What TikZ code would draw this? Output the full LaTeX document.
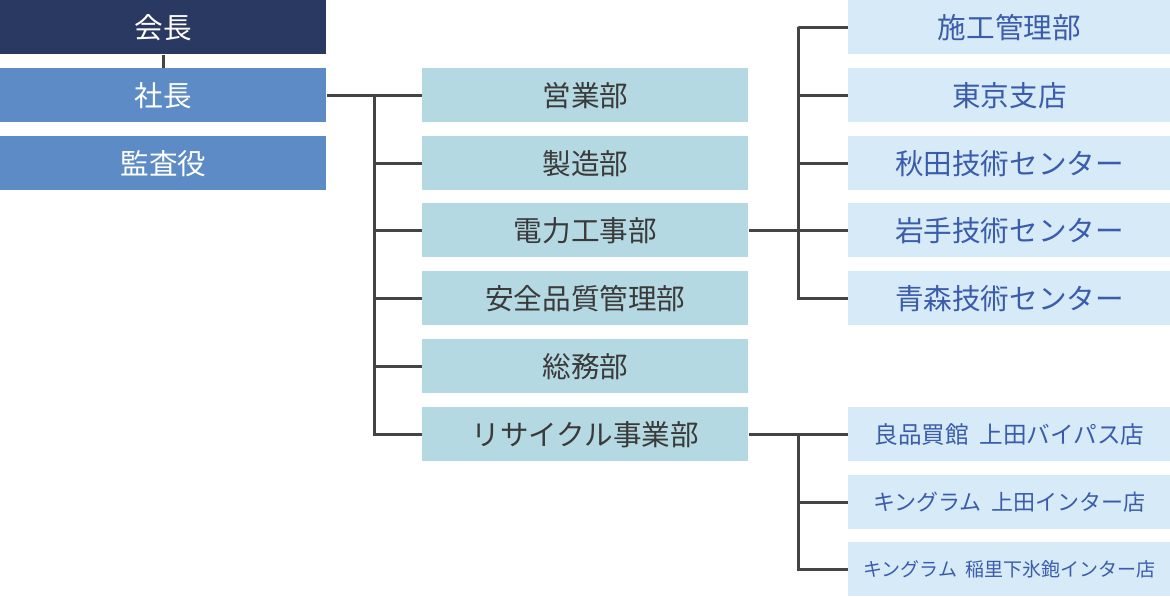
\documentclass[tikz,border=0pt]{standalone}
\usepackage{fontspec}
\setmainfont{Noto Sans CJK JP}
\definecolor{navy}{HTML}{2A3961}
\definecolor{topblue}{HTML}{5C8BC5}
\definecolor{deptteal}{HTML}{B4D9E2}
\definecolor{branchblue}{HTML}{D6EAF7}
\definecolor{branchtext}{HTML}{3B5CAB}
\definecolor{depttext}{HTML}{3A3A3A}
\definecolor{linegray}{HTML}{444444}
\newcommand{\gap}{\hspace{0.45em}}
\begin{document}
\begin{tikzpicture}[x=0.5pt,y=-0.5pt,
		box/.style={anchor=north west,inner sep=0pt,minimum height=27pt,font=\fontsize{14.3pt}{16pt}\selectfont},
		topbox/.style={box,minimum width=163pt,text=white},
		deptbox/.style={box,minimum width=163pt,fill=deptteal,text=depttext},
		branchbox/.style={box,minimum width=161pt,fill=branchblue,text=branchtext},
		link/.style={draw=linegray,line width=1.5pt}]
			\useasboundingbox (0,0) rectangle (1170,597);
			% top management
			\node [topbox,fill=navy] (kaicho) at (0,0) {会長};
			\node [topbox,fill=topblue] (shacho) at (0,68) {社長};
			\node [topbox,fill=topblue] (kansa) at (0,136) {監査役};
			% departments
			\node [deptbox] (eigyo) at (422,68) {営業部};
			\node [deptbox] (seizo) at (422,136) {製造部};
			\node [deptbox] (denryoku) at (422,203) {電力工事部};
			\node [deptbox] (anzen) at (422,271) {安全品質管理部};
			\node [deptbox] (somu) at (422,339) {総務部};
			\node [deptbox] (recycle) at (422,407) {リサイクル事業部};
			% branches of electric works
			\node [branchbox] (seko) at (848,0) {施工管理部};
			\node [branchbox] (tokyo) at (848,68) {東京支店};
			\node [branchbox] (akita) at (848,136) {秋田技術センター};
			\node [branchbox] (iwate) at (848,203) {岩手技術センター};
			\node [branchbox] (aomori) at (848,271) {青森技術センター};
			% shops of recycling
			\node [branchbox,font=\fontsize{11.8pt}{14pt}\selectfont] (ryohin) at (848,407) {良品買館\gap 上田バイパス店};
			\node [branchbox,font=\fontsize{11pt}{13pt}\selectfont] (uedaic) at (848,475) {キングラム\gap 上田インター店};
			\node [branchbox,font=\fontsize{9.5pt}{12pt}\selectfont] (inasato) at (848,542) {キングラム\gap 稲里下氷鉋インター店};
			% connectors
			\draw [link] (kaicho.south) -- (shacho.north);
			\coordinate (trunk) at (374,95);
			\draw [link] (shacho.east) -- (eigyo.west);
			\draw [link] (trunk) |- (recycle.west);
			\foreach \d in {seizo,denryoku,anzen,somu}
				\draw [link] (trunk |- \d.west) -- (\d.west);
			\coordinate (rtrunk) at (798,27);
			\draw [link] (denryoku.east) -- (rtrunk |- denryoku.east);
			\draw [link] (seko.west) -| (rtrunk) |- (aomori.west);
			\foreach \b in {tokyo,akita,iwate}
				\draw [link] (rtrunk |- \b.west) -- (\b.west);
			\draw [link] (recycle.east) -- (ryohin.west);
			\draw [link] (rtrunk |- ryohin.west) |- (inasato.west);
			\draw [link] (rtrunk |- uedaic.west) -- (uedaic.west);
		\end{tikzpicture}
\end{document}
